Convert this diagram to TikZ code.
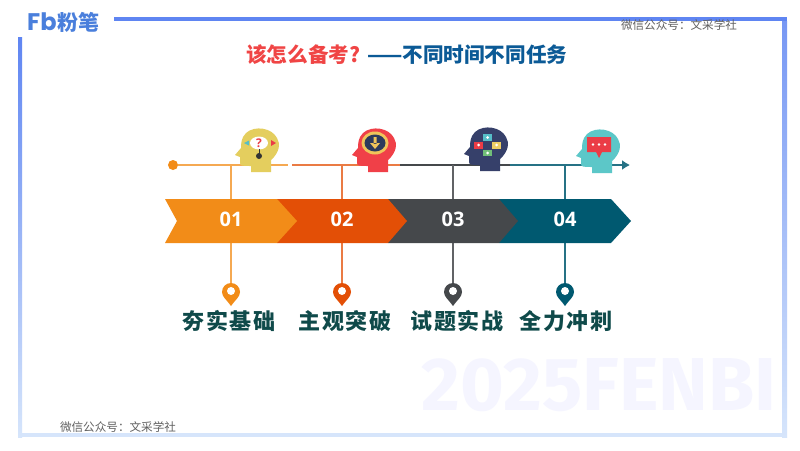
\documentclass[tikz,border=0pt]{standalone}
\usepackage{fontspec}
\usetikzlibrary{arrows.meta}
\setmainfont{Open Sans}
\newfontfamily\cjk{Noto Sans CJK SC}
\newfontfamily\cjkwide[LetterSpace=7.6]{Noto Sans CJK SC}
\newfontfamily\markfont{Fira Sans}
\newfontfamily\logofont{Poppins}
\definecolor{orangeA}{HTML}{F28C18}
\definecolor{orangeB}{HTML}{E34F06}
\definecolor{greyC}{HTML}{45484B}
\definecolor{tealD}{HTML}{005970}
\definecolor{frameA}{HTML}{5F85F2}
\definecolor{frameB}{HTML}{D6E5FB}
\definecolor{logoblue}{HTML}{4A7FDC}
\definecolor{taskgreen}{HTML}{0F4A4A}
\definecolor{headyellow}{HTML}{E4CE5E}
\definecolor{headred}{HTML}{F04048}
\definecolor{headnavy}{HTML}{36406A}
\definecolor{headteal}{HTML}{5CC7C8}
\definecolor{ringyellow}{HTML}{F0C45A}
\definecolor{ringnavy}{HTML}{2D3A5C}
\definecolor{boxteal}{HTML}{56BEC8}
\definecolor{boxred}{HTML}{EB3C46}
\definecolor{boxyellow}{HTML}{ECCE64}
\definecolor{boxgreen}{HTML}{70BE78}
\tikzset{
	stage/.style={text=white,font=\bfseries\fontsize{20}{20}\selectfont},
	task/.style={text=taskgreen,font=\cjkwide\bfseries\fontsize{22}{22}\selectfont},
	wechat/.style={text=black!62,font=\cjk\fontsize{11.6}{12}\selectfont},
	headicon/.pic={
		\path[pic actions] (13,22) -- (13,10) .. controls (21,3) and (23,-6) .. (19,-12)
			.. controls (14,-22) and (-3,-25) .. (-12,-17) .. controls (-17,-12) and (-17,-6) .. (-17,-2)
			-- (-23,5) -- (-18,7) -- (-18,13) .. controls (-18,16) and (-15,16) .. (-7,16) -- (-7,22) -- cycle;
	},
	mappin/.pic={
		\path[pic actions] (0,14) .. controls (-4,8) and (-9,5) .. (-9,0) arc (180:360:9) .. controls (9,5) and (4,8) .. cycle;
		\fill[white] (0,-1) circle (4);
	}
}
\begin{document}
\begin{tikzpicture}[x=1pt,y=-1pt]
	\useasboundingbox (0,0) rectangle (800,450);
	\fill[white] (0,0) rectangle (800,450);
	% frame
	\fill[frameA] (114,17) rectangle (787,21);
	\shade[top color=frameA,bottom color=frameB] (18,37) rectangle (22,437);
	\shade[top color=frameA!85!white,bottom color=frameB] (782,21) rectangle (787,437);
	\fill[frameB] (22,433) rectangle (782,437);
	% logo and title
	\node[anchor=west,inner sep=0pt,text=logoblue,font=\logofont\bfseries\fontsize{24}{24}\selectfont] (logo) at (27,22) {Fb};
	\node[anchor=west,inner sep=0pt,text=logoblue,font=\cjk\bfseries\fontsize{21}{21}\selectfont] (brand) at (57,22) {粉笔};
	\node[anchor=west,inner sep=0pt,font=\cjk\bfseries\fontsize{20.6}{21}\selectfont] (title) at (246,55) {\textcolor[HTML]{F04545}{该怎么备考?}\hspace{7pt}\textcolor[HTML]{0B5A96}{——不同时间不同任务}};
	\node[text=blue!4,font=\markfont\bfseries\fontsize{75}{75}\selectfont,inner sep=0pt] (mark) at (599,385) {2025FENBI};
	\node[wechat,inner sep=0pt] (wechat1) at (679,25) {微信公众号\symbol{"FF1A}文采学社};
	\node[wechat,inner sep=0pt] (wechat2) at (118,427) {微信公众号\symbol{"FF1A}文采学社};
	% time line
	\coordinate (g1) at (288,165);
	\coordinate (g2) at (292,165);
	\coordinate (g3) at (400,165);
	\coordinate (g4) at (510,165);
	\coordinate (end) at (630,165);
	\coordinate (t1) at (231,165);
	\coordinate (t2) at (342,165);
	\coordinate (t3) at (453,165);
	\coordinate (t4) at (565,165);
	\coordinate (p1) at (231,292);
	\coordinate (p2) at (342,292);
	\coordinate (p3) at (453,292);
	\coordinate (p4) at (565,292);
	\node[circle,fill=orangeA,inner sep=0pt,minimum size=10pt] (start) at (173,165) {};
	\draw[orangeA!75!white,line width=1.4pt] (start) -- (g1);
	\draw[orangeB!75!white,line width=1.4pt] (g2) -- (g3);
	\draw[greyC,line width=1.4pt] (g3) -- (g4);
	\draw[tealD!85!white,line width=1.4pt,-{Latex[length=8pt,width=10pt]}] (g4) -- (end);
	\draw[orangeA!75!white,line width=1.4pt] (t1) -- (p1);
	\draw[orangeB!75!white,line width=1.4pt] (t2) -- (p2);
	\draw[greyC!85!white,line width=1.4pt] (t3) -- (p3);
	\draw[tealD!85!white,line width=1.4pt] (t4) -- (p4);
	% arrows, last one at the bottom
	\fill[tealD] (499,199) -- (611,199) -- (631,221) -- (611,243) -- (499,243) -- cycle;
	\fill[greyC] (388,199) -- (499,199) -- (518,221) -- (499,243) -- (388,243) -- cycle;
	\fill[orangeB] (277,199) -- (388,199) -- (407,221) -- (388,243) -- (277,243) -- cycle;
	\fill[orangeA] (165,199) -- (277,199) -- (297,221) -- (277,243) -- (165,243) -- (177,221) -- cycle;
	\node[stage] (s1) at (231,219) {01};
	\node[stage] (s2) at (342,219) {02};
	\node[stage] (s3) at (453,219) {03};
	\node[stage] (s4) at (565,219) {04};
	% pins and tasks
	\pic[fill=orangeA] at (p1) {mappin};
	\pic[fill=orangeB] at (p2) {mappin};
	\pic[fill=greyC] at (p3) {mappin};
	\pic[fill=tealD] at (p4) {mappin};
	\node[task] (n1) at (229,321) {夯实基础};
	\node[task] (n2) at (345,321) {主观突破};
	\node[task] (n3) at (457,321) {试题实战};
	\node[task] (n4) at (566,321) {全力冲刺};
	% head 1
	\pic[fill=headyellow] at (258,150) {headicon};
	\fill[white] (259,143) ellipse (9 and 6.5);
	\draw[black!80,line width=1pt] (259,149) -- (259,156);
	\fill[black!80] (259,156) circle (3);
	\fill[boxteal] (244,143) -- (249,140.5) -- (249,145.5) -- cycle;
	\fill[boxred] (276,143) -- (271,140) -- (271,146) -- cycle;
	\node[text=boxred,inner sep=0pt,font=\bfseries\fontsize{12}{12}\selectfont] (q) at (259,143) {?};
	% head 2
	\pic[fill=headred] at (375,150) {headicon};
	\fill[ringyellow] (375,143) ellipse (13.5 and 11.5);
	\fill[ringnavy] (375,143) ellipse (10.5 and 8.5);
	\fill[ringyellow] (373.5,137) rectangle (376.5,144) (370,143) -- (380,143) -- (375,149) -- cycle;
	% head 3
	\pic[fill=headnavy] at (487,149) {headicon};
	\fill[boxteal] (483,134) rectangle (492,141);
	\fill[boxred] (474,141.5) rectangle (483,149);
	\fill[boxyellow] (492,141.5) rectangle (501,149);
	\fill[boxgreen] (483,149.5) rectangle (492,156);
	\fill[white] (487.5,137.5) circle (1.5) (478.5,145) circle (1.5) (496.5,145) circle (1.5) (487.5,153) circle (1.5);
	% head 4
	\pic[fill=headteal] at (599,151) {headicon};
	\fill[boxred] (587,137) -- (611,137) -- (611,152) -- (602,152) -- (599,158) -- (596,152) -- (587,152) -- cycle;
	\fill[white] (593,144.5) circle (1.3) (599,144.5) circle (1.3) (605,144.5) circle (1.3);
\end{tikzpicture}
\end{document}
